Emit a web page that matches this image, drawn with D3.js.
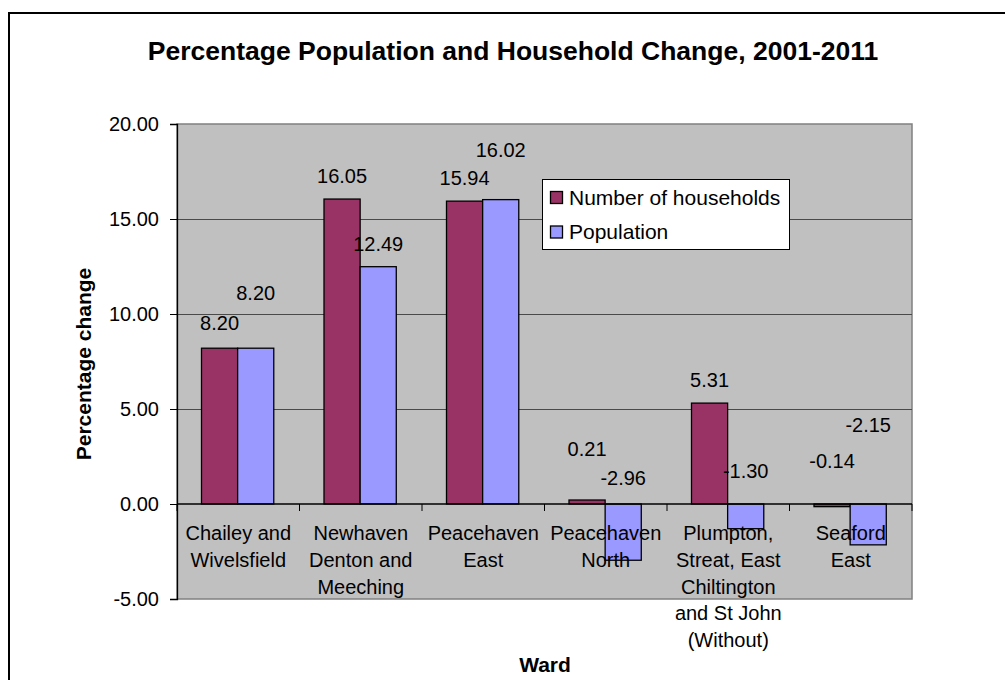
<!DOCTYPE html>
<html>
<head>
<meta charset="utf-8">
<script src="https://cdn.jsdelivr.net/npm/d3@7"></script>
<style>
  body { margin: 0; background: #fff; }
  svg text { font-family: "Liberation Sans", Arial, sans-serif; fill: #000; }
</style>
</head>
<body>
<div id="chart"></div>
<script>
var width = 1005;
var height = 680;

// data
var wards = [
  ["Chailey and", "Wivelsfield"],
  ["Newhaven", "Denton and", "Meeching"],
  ["Peacehaven", "East"],
  ["Peacehaven", "North"],
  ["Plumpton,", "Streat, East", "Chiltington", "and St John", "(Without)"],
  ["Seaford", "East"]
];
var seriesNames = ["Number of households", "Population"];
var households = [8.20, 16.05, 15.94, 0.21, 5.31, -0.14];
var population = [8.20, 12.49, 16.02, -2.96, -1.30, -2.15];
var yTicks = [-5, 0, 5, 10, 15, 20];
// where the data labels sit (in chart units), they were dragged around in the original
var householdLabelAt = [9.54, 17.28, 17.17, 2.89, 6.56, 2.26];
var populationLabelAt = [11.14, 13.72, 18.63, 1.37, 1.75, 4.16];

var colors = ["#993366", "#9999FF"];
var plot = { left: 177, top: 124, right: 912, bottom: 599 };

var svg = d3.select("#chart")
  .append("svg")
  .attr("width", width)
  .attr("height", height);

// outer frame (only left and top edges show)
svg.append("path")
  .attr("d", "M9," + height + " V13 H" + width)
  .attr("fill", "none")
  .attr("stroke", "#000")
  .attr("stroke-width", 2);

svg.append("text")
  .attr("x", 513)
  .attr("y", 60)
  .attr("text-anchor", "middle")
  .attr("font-size", "26.5px")
  .attr("font-weight", "bold")
  .text("Percentage Population and Household Change, 2001-2011");

var names = wards.map((w) => w.join(" "));

const x0 = d3.scaleBand()
  .domain(names)
  .range([plot.left, plot.right]);

const bw = x0.bandwidth();
const x1 = d3.scaleBand()
  .domain(seriesNames)
  .range([bw * 0.2, bw * 0.79]);

const y = d3.scaleLinear()
  .domain([-5, 20])
  .range([plot.bottom, plot.top]);

// plot background
svg.append("rect")
  .attr("x", plot.left)
  .attr("y", plot.top)
  .attr("width", plot.right - plot.left)
  .attr("height", plot.bottom - plot.top)
  .attr("fill", "#C0C0C0")
  .attr("stroke", "#808080")
  .attr("stroke-width", 1.5);

// gridlines
svg.append("g")
  .selectAll("line")
  .data(yTicks.filter((t) => t > 0 && t < 20))
  .enter()
  .append("line")
  .attr("x1", plot.left)
  .attr("x2", plot.right)
  .attr("y1", (d) => Math.round(y(d)) + 0.5)
  .attr("y2", (d) => Math.round(y(d)) + 0.5)
  .attr("stroke", "#4a4a4a")
  .attr("stroke-width", 1);

var rows = names.map((n, i) => ({ name: n, values: [households[i], population[i]], labels: [householdLabelAt[i], populationLabelAt[i]] }));

var groups = svg.append("g")
  .selectAll("g")
  .data(rows)
  .enter()
  .append("g")
  .attr("transform", (d) => "translate(" + x0(d.name) + ",0)");

groups.selectAll("rect")
  .data((d) => d.values.map((v, j) => ({ series: seriesNames[j], value: v, j: j })))
  .enter()
  .append("rect")
  .attr("x", (d) => x1(d.series))
  .attr("y", (d) => y(Math.max(0, d.value)))
  .attr("width", x1.bandwidth())
  .attr("height", (d) => Math.abs(y(d.value) - y(0)))
  .attr("fill", (d) => colors[d.j])
  .attr("stroke", "#000")
  .attr("stroke-width", 1.3);

// y axis
const y_axis = d3.axisLeft(y)
  .tickValues(yTicks)
  .tickFormat((d) => d.toFixed(2))
  .tickSize(7)
  .tickPadding(11);

var yg = svg.append("g")
  .attr("transform", "translate(" + plot.left + ",0)")
  .call(y_axis);
yg.select(".domain").attr("stroke", "#000").attr("stroke-width", 1.3);
yg.selectAll("text").attr("font-size", "20px").attr("font-family", "Liberation Sans, Arial, sans-serif");

// x axis along zero
var xg = svg.append("g")
  .attr("transform", "translate(0," + y(0) + ")");
xg.append("line")
  .attr("x1", plot.left)
  .attr("x2", plot.right)
  .attr("stroke", "#000")
  .attr("stroke-width", 1.3);
xg.selectAll(".tk")
  .data(names.map((n) => x0(n) + bw).concat([plot.left]))
  .enter()
  .append("line")
  .attr("x1", (d) => d)
  .attr("x2", (d) => d)
  .attr("y1", 0)
  .attr("y2", 7)
  .attr("stroke", "#000");

// category labels (drawn over the bars)
svg.append("g")
  .selectAll("text")
  .data(wards)
  .enter()
  .append("text")
  .attr("text-anchor", "middle")
  .attr("font-size", "20px")
  .attr("transform", (d, i) => "translate(" + (x0(names[i]) + bw / 2) + "," + (y(0) + 36) + ")")
  .selectAll("tspan")
  .data((d) => d)
  .enter()
  .append("tspan")
  .attr("x", 0)
  .attr("y", (d, k) => k * 26.8)
  .text((d) => d);

// data labels
groups.selectAll(".lbl")
  .data((d) => d.values.map((v, j) => ({ series: seriesNames[j], value: v, at: d.labels[j] })))
  .enter()
  .append("text")
  .attr("class", "lbl")
  .attr("x", (d) => x1(d.series) + x1.bandwidth() / 2)
  .attr("y", (d) => y(d.at))
  .attr("dy", "0.36em")
  .attr("text-anchor", "middle")
  .attr("font-size", "20px")
  .text((d) => d.value.toFixed(2));

// axis titles
svg.append("text")
  .attr("transform", "translate(91,364) rotate(-90)")
  .attr("text-anchor", "middle")
  .attr("font-size", "21px")
  .attr("font-weight", "bold")
  .text("Percentage change");

svg.append("text")
  .attr("x", 545)
  .attr("y", 672)
  .attr("text-anchor", "middle")
  .attr("font-size", "21px")
  .attr("font-weight", "bold")
  .text("Ward");

// legend
var legend = svg.append("g").attr("transform", "translate(542,179)");
legend.append("rect")
  .attr("x", 0.5)
  .attr("y", 0.5)
  .attr("width", 247)
  .attr("height", 70)
  .attr("fill", "#fff")
  .attr("stroke", "#000");
var li = legend.selectAll(".item")
  .data(seriesNames)
  .enter()
  .append("g")
  .attr("transform", (d, i) => "translate(8," + (18 + i * 34.5) + ")");
li.append("rect")
  .attr("x", 0.5)
  .attr("y", -5.5)
  .attr("width", 12)
  .attr("height", 12)
  .attr("fill", (d, i) => colors[i])
  .attr("stroke", "#000")
  .attr("stroke-width", 1.3);
li.append("text")
  .attr("x", 19)
  .attr("y", 0)
  .attr("dy", "0.36em")
  .attr("font-size", "21px")
  .text((d) => d);
</script>
</body>
</html>
